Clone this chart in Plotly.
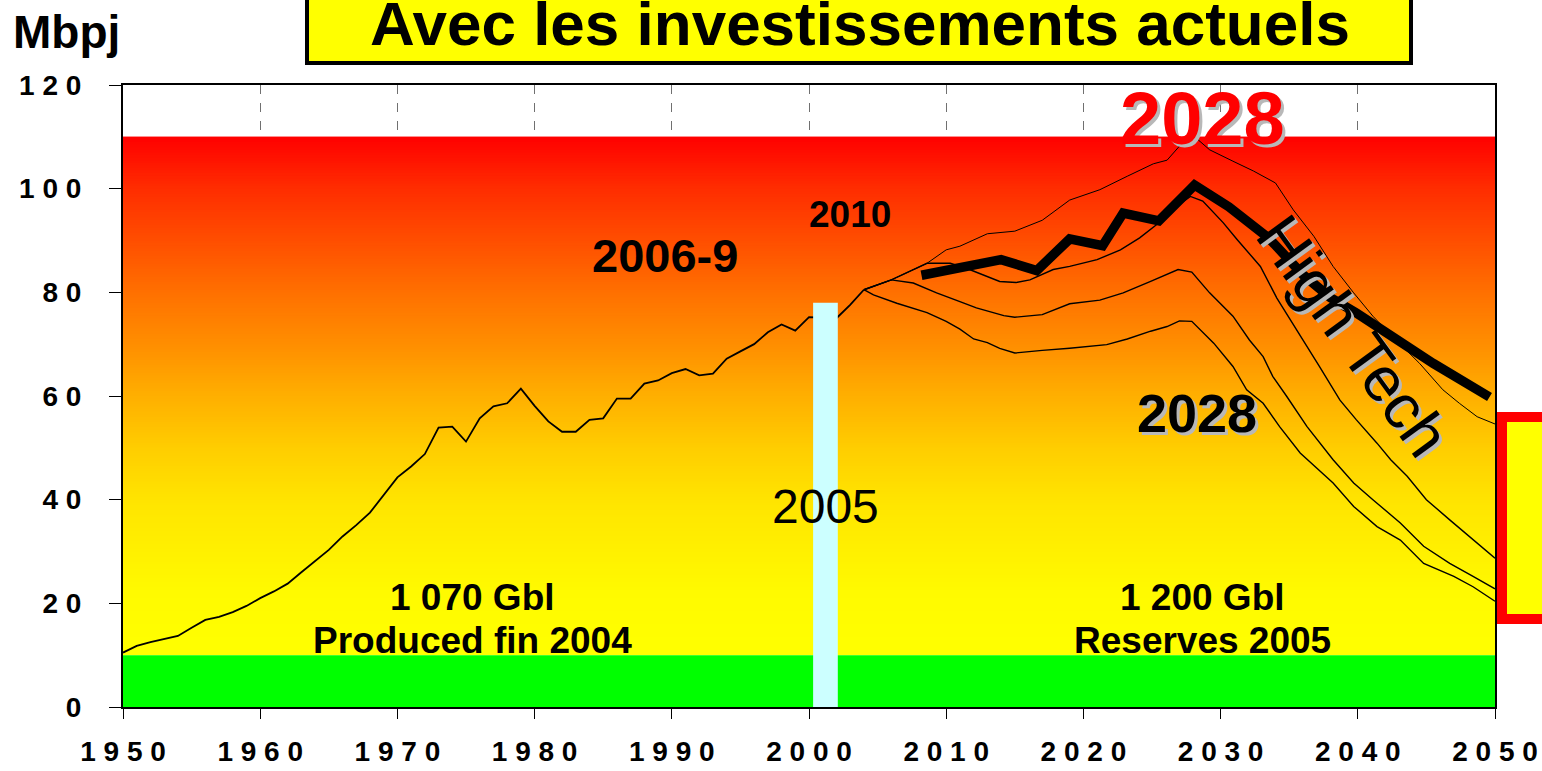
import plotly.graph_objects as go

FONT = "Liberation Sans, Arial, sans-serif"

# historical production 1950-2004 (Mb/d)
hist_years = [1950, 1951, 1952, 1953, 1954, 1955, 1956, 1957, 1958, 1959,
              1960, 1961, 1962, 1963, 1964, 1965, 1966, 1967, 1968, 1969,
              1970, 1971, 1972, 1973, 1974, 1975, 1976, 1977, 1978, 1979,
              1980, 1981, 1982, 1983, 1984, 1985, 1986, 1987, 1988, 1989,
              1990, 1991, 1992, 1993, 1994, 1995, 1996, 1997, 1998, 1999,
              2000, 2001, 2002, 2003, 2004]
hist_prod = [10.5, 11.8, 12.5, 13.1, 13.7, 15.3, 16.8, 17.4, 18.3, 19.5,
             21.0, 22.3, 23.8, 26.0, 28.2, 30.3, 32.9, 35.1, 37.5, 40.9,
             44.3, 46.4, 48.8, 53.9, 54.1, 51.2, 55.7, 58.0, 58.6, 61.4,
             58.1, 55.1, 53.1, 53.1, 55.4, 55.7, 59.5, 59.5, 62.4, 63.0,
             64.4, 65.2, 64.0, 64.3, 67.2, 68.6, 70.0, 72.3, 73.8, 72.6,
             75.2, 75.1, 75.0, 77.6, 80.5]

# scenario curves after 2004
a_years = [2004, 2006, 2008.6, 2010, 2011, 2013, 2015, 2017, 2019, 2021.2,
           2023.2, 2025.1, 2026.1, 2027, 2028.2, 2029.2, 2030.9, 2032.4, 2034,
           2035.3, 2036.8, 2038.2, 2039.7, 2041.1, 2042.3, 2044.5, 2046.2,
           2047.4, 2048.7, 2050]
a_prod = [80.5, 82.4, 85.6, 88.2, 88.9, 91.3, 91.8, 93.9, 97.8, 99.8,
          102.4, 104.8, 105.5, 108.2, 109.8, 107.5, 105.3, 103.4, 101.1,
          95.9, 90.8, 85.0, 79.9, 75.4, 72.1, 66.3, 61.2, 58.6, 56.0, 54.6]

b_years = [2004, 2006, 2008.6, 2010.3, 2011.7, 2013.9, 2015.1, 2016.1, 2017.8,
           2019, 2021, 2022.7, 2024.1, 2025.3, 2026.8, 2027.8, 2028.7, 2030.2,
           2031.2, 2032.9, 2034.1, 2035.1, 2036, 2037.2, 2038.7, 2039.9,
           2041.4, 2042.4, 2043.6, 2045, 2046.7, 2048.4, 2050]
b_prod = [80.5, 82.4, 85.6, 85.6, 84.4, 82.1, 81.9, 82.4, 84.4,
          85.0, 86.3, 88.2, 90.5, 93.0, 96.6, 98.5, 97.6, 93.4,
          90.2, 85.0, 78.9, 74.7, 70.8, 65.7, 59.2, 55.4,
          50.9, 47.7, 44.5, 40.0, 36.1, 32.3, 28.7]

c_years = [2004, 2006, 2007.6, 2009.3, 2011, 2012.2, 2014.2, 2015, 2017, 2019,
           2021.2, 2022.9, 2024.9, 2026.9, 2027.9, 2029.2, 2030.9, 2032.1,
           2033.1, 2033.8, 2034.8, 2036.3, 2038.2, 2039.7, 2041.1, 2043.1,
           2044.8, 2046.7, 2048.4, 2050]
c_prod = [80.5, 82.4, 81.8, 79.9, 78.2, 77.0, 75.5, 75.2, 75.7, 77.8,
          78.5, 79.9, 82.1, 84.4, 83.9, 79.9, 75.4, 70.8,
          67.6, 63.8, 60.0, 54.1, 47.7, 43.2, 40.0, 35.5,
          31.0, 27.7, 25.2, 22.8]

d_years = [2004, 2004.7, 2006.4, 2008.6, 2010, 2011, 2012, 2013, 2013.9, 2015,
           2017, 2019, 2021.7, 2023.2, 2024.9, 2026.1, 2027, 2027.9, 2029.5,
           2030.9, 2031.9, 2033.1, 2034.3, 2035.8, 2038.2, 2039.7, 2041.4,
           2043.1, 2044.8, 2047, 2048.4, 2050]
d_prod = [80.5, 79.5, 77.9, 76.1, 74.4, 72.9, 71.0, 70.3, 69.2, 68.3,
          68.8, 69.2, 69.9, 71.0, 72.5, 73.4, 74.5, 74.4, 70.2,
          65.7, 61.2, 58.6, 54.1, 49.0, 43.2, 38.7, 34.8,
          32.2, 27.7, 25.2, 23.2, 20.4]

# "High Tech" scenario (thick line)
ht_years = [2008.2, 2011, 2014, 2016.6, 2019, 2021.4, 2022.9, 2025.5, 2028.1,
            2030.6, 2033.5, 2036, 2038, 2039.9, 2042.4, 2045.5, 2049.6]
ht_prod = [83.3, 84.9, 86.3, 84.2, 90.3, 89.0, 95.3, 93.8, 100.7,
           96.5, 90.5, 83.4, 79.0, 76.0, 71.5, 66.3, 59.8]

# 2005 marker bar
bar_x0, bar_x1, bar_top = 2000.3, 2002.1, 78

x_ticks = [1950, 1960, 1970, 1980, 1990, 2000, 2010, 2020, 2030, 2040, 2050]
y_ticks = [0, 20, 40, 60, 80, 100, 120]

# background gradient stops (value, rgb)
grad_stops = [(10, (255, 255, 0)), (22, (255, 250, 0)), (40, (255, 228, 0)),
              (50, (255, 205, 0)), (60, (255, 175, 0)), (70, (255, 142, 0)),
              (80, (255, 112, 0)), (90, (255, 78, 0)), (100, (255, 45, 0)),
              (110, (255, 0, 0))]

# plot area in pixels
L, R, T, B = 123, 1495, 85, 707


def px(x):
    return (x - L) / (R - L)


def py(y):
    return (B - y) / (B - T)


def grad_color(v):
    for (v0, c0), (v1, c1) in zip(grad_stops[:-1], grad_stops[1:]):
        if v0 <= v <= v1:
            f = (v - v0) / (v1 - v0)
            c = [round(a + (b - a) * f) for a, b in zip(c0, c1)]
            return "rgb(%d,%d,%d)" % tuple(c)
    return "rgb(255,0,0)"


fig = go.Figure()

fig.add_trace(go.Scatter(x=hist_years, y=hist_prod, mode="lines",
                         line=dict(color="black", width=1.8), hoverinfo="skip"))
for yrs, vals, w in [(a_years, a_prod, 1.0), (b_years, b_prod, 1.4),
                     (c_years, c_prod, 1.4), (d_years, d_prod, 1.4)]:
    fig.add_trace(go.Scatter(x=yrs, y=vals, mode="lines",
                             line=dict(color="black", width=w), hoverinfo="skip"))
fig.add_trace(go.Scatter(x=ht_years, y=ht_prod, mode="lines",
                         line=dict(color="black", width=9.5), hoverinfo="skip"))

shapes = []
# gradient band 10..110
n = 200
for i in range(n):
    y0 = 10 + 100 * i / n
    y1 = 10 + 100 * (i + 1) / n
    col = grad_color((y0 + y1) / 2)
    top = y1 + 0.5 if i < n - 1 else y1
    shapes.append(dict(type="rect", xref="x", yref="y", x0=1950, x1=2050,
                       y0=y0, y1=top, fillcolor=col, line=dict(width=0),
                       layer="between"))
shapes.append(dict(type="rect", xref="x", yref="y", x0=1950, x1=2050, y0=0, y1=10,
                   fillcolor="#00FF00", line=dict(width=0), layer="between"))
shapes.append(dict(type="rect", xref="x", yref="y", x0=bar_x0, x1=bar_x1, y0=0,
                   y1=bar_top, fillcolor="#CCFFFF", line=dict(width=0), layer="above"))
# title box
shapes.append(dict(type="rect", xref="paper", yref="paper", x0=px(307), x1=px(1411),
                   y0=py(63), y1=py(-10), fillcolor="#FFFF00",
                   line=dict(color="black", width=4), layer="above"))
# right red box
shapes.append(dict(type="rect", xref="paper", yref="paper", x0=px(1502), x1=px(1570),
                   y0=py(619), y1=py(417), fillcolor="#FFFF00",
                   line=dict(color="#FF0000", width=10), layer="above"))
fig.update_layout(shapes=shapes)

ann = []


def label(text, x, y, size, bold=True, color="black", shadow=None, angle=0,
          xref="x", yref="y", dx=3, dy=3):
    t = "<b>%s</b>" % text if bold else text
    if shadow:
        ann.append(dict(text=t, x=x, y=y, xref=xref, yref=yref, showarrow=False,
                        font=dict(family=FONT, size=size, color=shadow),
                        xanchor="center", yanchor="middle", textangle=angle,
                        xshift=dx, yshift=-dy))
    ann.append(dict(text=t, x=x, y=y, xref=xref, yref=yref, showarrow=False,
                    font=dict(family=FONT, size=size, color=color),
                    xanchor="center", yanchor="middle", textangle=angle))


label("Mbpj", px(66), py(32), 46, xref="paper", yref="paper")
label("Avec les investissements actuels", px(860), py(24), 62,
      xref="paper", yref="paper")
label("2006-9", 1989.5, 87.2, 47)
label("2010", 2003.0, 95.0, 37)
label("2005", 2001.2, 38.6, 48, bold=False)
label("2028", 2028.7, 113.5, 74, color="#FF0000", shadow="#B8B8B8")
label("2028", 2028.3, 56.8, 54, shadow="#B8B8B8")
label("High Tech", 2039.7, 71.6, 63, bold=False, shadow="#B8B8B8", angle=54)
label("1 070 Gbl", 1975.5, 21.2, 37)
label("Produced fin 2004", 1975.5, 12.9, 37)
label("1 200 Gbl", 2028.7, 21.2, 37)
label("Reserves 2005", 2028.7, 12.9, 37)
fig.update_layout(annotations=ann)

fig.update_xaxes(range=[1950, 2050], tickvals=x_ticks,
                 ticktext=["<b>%s</b>" % " ".join(str(t)) for t in x_ticks],
                 tickfont=dict(family=FONT, size=28, color="black"),
                 ticks="outside", ticklen=10, tickcolor="black", tickwidth=1,
                 ticklabelstandoff=8, automargin=False,
                 showline=True, linecolor="black", linewidth=2, mirror=True,
                 showgrid=True, gridcolor="#707070", griddash="dash", gridwidth=1,
                 zeroline=False)
fig.update_yaxes(range=[0, 120], tickvals=y_ticks,
                 ticktext=["<b>%s</b>" % " ".join(str(t)) for t in y_ticks],
                 tickfont=dict(family=FONT, size=28, color="black"),
                 ticks="outside", ticklen=12, tickcolor="black", tickwidth=1,
                 ticklabelstandoff=22, automargin=False,
                 showline=True, linecolor="black", linewidth=2, mirror=True,
                 showgrid=False, zeroline=False)

fig.update_layout(width=1542, height=771, showlegend=False,
                  margin=dict(l=L, r=1542 - R, t=T, b=771 - B),
                  plot_bgcolor="white", paper_bgcolor="white")

# drop the browser's default page margin so the figure sits at the window origin
fig.write_html("out.html", config={"displayModeBar": False},
               post_script="document.body.style.margin = '0';")
